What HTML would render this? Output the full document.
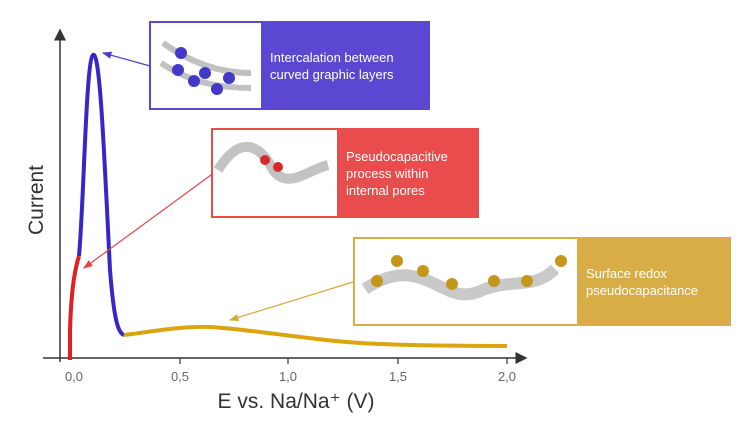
<!DOCTYPE html>
<html><head><meta charset="utf-8"><style>
body{margin:0;background:#fff;font-family:"Liberation Sans",sans-serif}
.box{position:absolute;display:flex;box-sizing:border-box}
.t{color:#fff;font-size:13px;line-height:17px;display:flex;align-items:center;padding-left:9px}
</style></head><body>
<div style="position:relative;width:750px;height:422px;overflow:hidden">
<svg width="750" height="422" style="position:absolute;left:0;top:0">
<defs>
<marker id="ah" markerWidth="8" markerHeight="8" refX="7" refY="4" orient="auto"><path d="M0,0 L8,4 L0,8 Z" fill="#333"/></marker>
<marker id="mb" markerWidth="8" markerHeight="6" refX="7" refY="3" orient="auto"><path d="M0,0 L8,3 L0,6 Z" fill="#4a3dc8"/></marker>
<marker id="mr" markerWidth="8" markerHeight="6" refX="7" refY="3" orient="auto"><path d="M0,0 L8,3 L0,6 Z" fill="#e04848"/></marker>
<marker id="mg" markerWidth="8" markerHeight="6" refX="7" refY="3" orient="auto"><path d="M0,0 L8,3 L0,6 Z" fill="#d4aa3a"/></marker>
</defs>
<line x1="60" y1="362" x2="60" y2="30" stroke="#333" stroke-width="1.5" marker-end="url(#ah)"/>
<line x1="43" y1="358" x2="526" y2="358" stroke="#333" stroke-width="1.5" marker-end="url(#ah)"/>
<g stroke="#333" stroke-width="1.2"><line x1="180" y1="358" x2="180" y2="364"/><line x1="288" y1="358" x2="288" y2="364"/><line x1="398" y1="358" x2="398" y2="364"/><line x1="507" y1="358" x2="507" y2="364"/></g>
<g font-size="13" fill="#666" text-anchor="middle"><text x="74" y="381">0,0</text><text x="180" y="381">0,5</text><text x="288" y="381">1,0</text><text x="398" y="381">1,5</text><text x="507" y="381">2,0</text></g>
<text x="296" y="408" font-size="21" fill="#333" text-anchor="middle">E vs. Na/Na⁺ (V)</text>
<text transform="translate(43,200) rotate(-90)" font-size="21" fill="#333" text-anchor="middle">Current</text>
<path d="M70,360 L70,330 C71,300 73,275 79,256" fill="none" stroke="#e02020" stroke-width="4"/>
<path d="M79,256 C84,200 86,60 93,55 C100,50 104,150 110,270 C114,320 118,333 124,335" fill="none" stroke="#3727c8" stroke-width="4"/>
<path d="M124,335 C150,332 180,326 210,327 C260,330 320,342 380,344 C430,346 480,346 507,346" fill="none" stroke="#dba50f" stroke-width="4"/>
<line x1="150" y1="66" x2="103" y2="53" stroke="#4a3dc8" stroke-width="1.2" marker-end="url(#mb)"/>
<line x1="211" y1="175" x2="84" y2="268" stroke="#e04848" stroke-width="1.2" marker-end="url(#mr)"/>
<line x1="353" y1="282" x2="230" y2="320" stroke="#d4aa3a" stroke-width="1.2" marker-end="url(#mg)"/>
</svg>
<div class="box" style="left:149px;top:21px;width:281px;height:89px;border:2px solid #5a48d2">
<div style="width:110px;background:#fff"><svg width="110" height="85"><g fill="none" stroke="#999" stroke-width="6" opacity=".6"><path d="M12,20 C40,40 70,50 100,50"/><path d="M10,40 C40,60 70,65 100,65"/></g><g fill="#4338c8"><circle cx="30" cy="30" r="6"/><circle cx="27" cy="47" r="6"/><circle cx="54" cy="50" r="6"/><circle cx="43" cy="58" r="6"/><circle cx="78" cy="55" r="6"/><circle cx="66" cy="66" r="6"/></g></svg></div>
<div class="t" style="flex:1;background:#5a48d2">Intercalation between<br>curved graphic layers</div></div>
<div class="box" style="left:211px;top:128px;width:268px;height:90px;border:2px solid #e84c4c">
<div style="width:124px;background:#fff"><svg width="124" height="86"><path d="M5,40 C30,0 50,20 60,40 C75,60 95,40 115,35" fill="none" stroke="#888" stroke-width="10" opacity=".5"/><circle cx="52" cy="30" r="5" fill="#d42a2a"/><circle cx="65" cy="37" r="5" fill="#d42a2a"/></svg></div>
<div class="t" style="flex:1;background:#e84c4c">Pseudocapacitive<br>process within<br>internal pores</div></div>
<div class="box" style="left:353px;top:237px;width:378px;height:89px;border:2px solid #d8ad45">
<div style="width:222px;background:#fff"><svg width="222" height="85"><path d="M10,50 C40,30 60,35 80,45 C100,55 110,60 130,50 C160,40 180,50 200,30" fill="none" stroke="#888" stroke-width="12" opacity=".45"/><g fill="#c4961c"><circle cx="22" cy="42" r="6"/><circle cx="42" cy="22" r="6"/><circle cx="68" cy="32" r="6"/><circle cx="97" cy="45" r="6"/><circle cx="139" cy="42" r="6"/><circle cx="172" cy="42" r="6"/><circle cx="206" cy="22" r="6"/></g></svg></div>
<div class="t" style="flex:1;background:#d8ad45">Surface redox<br>pseudocapacitance</div></div>
</div>
</body></html>
